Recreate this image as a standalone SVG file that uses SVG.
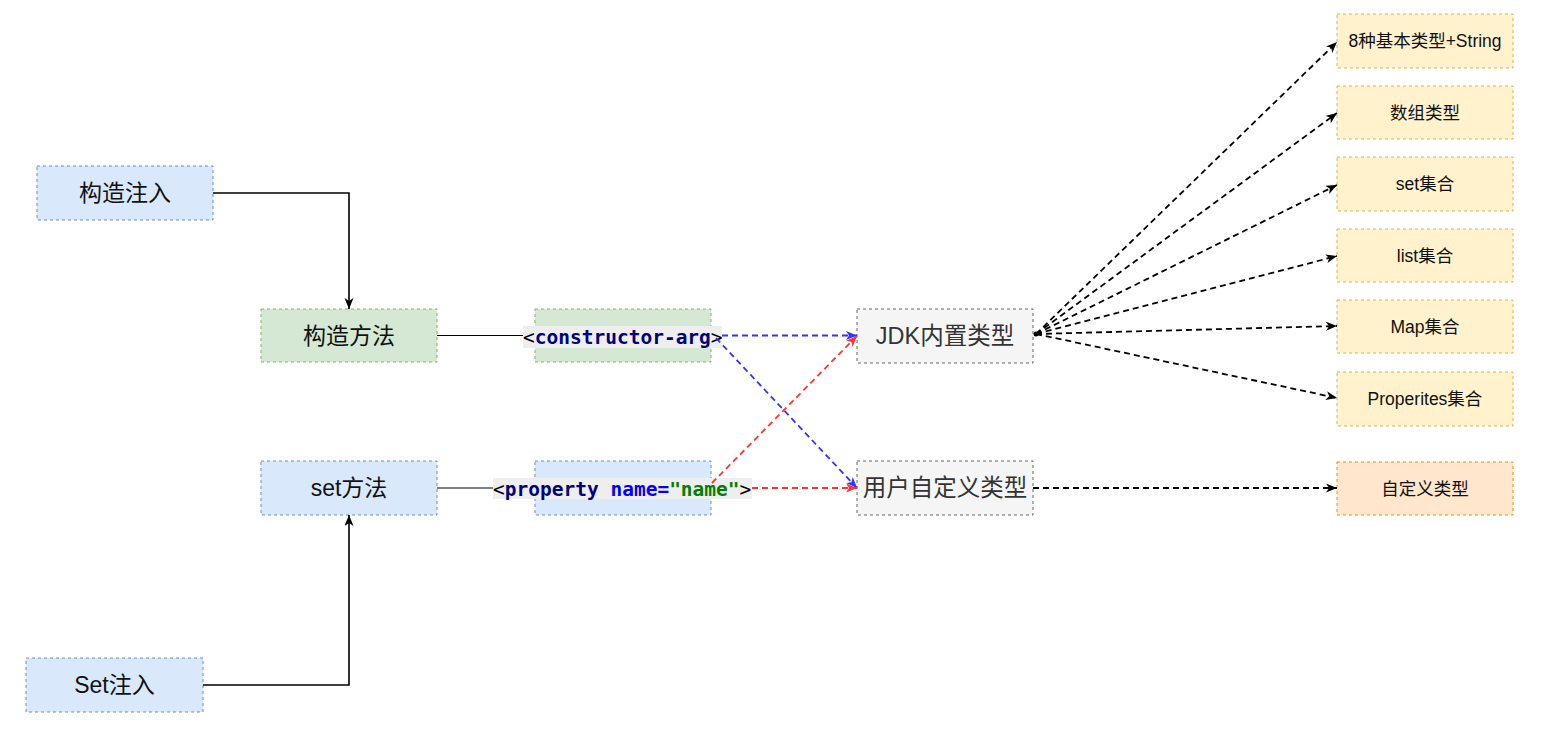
<svg xmlns="http://www.w3.org/2000/svg" width="1541" height="734" viewBox="0 0 1541 734">
<defs>
<style>
.n rect{stroke-width:1;stroke-dasharray:3 3}
.blue rect{fill:#dae8fc;stroke:#6c8ebf}
.green rect{fill:#d5e8d4;stroke:#82b366}
.grey rect{fill:#f5f5f5;stroke:#666666}
.yellow rect{fill:#fff2cc;stroke:#d6b656}
.orange rect{fill:#ffe6cc;stroke:#d79b00}
.n rect.lbg{fill:#eeeeee;stroke:none}
.t{font-family:"Liberation Sans","Noto Sans CJK SC",sans-serif;text-anchor:middle;dominant-baseline:central;fill:#111}
.big{font-size:23px}
.grey .t{fill:#333333;font-size:23.5px}
.small{font-size:17.5px}
.code{font-family:"DejaVu Sans Mono","Liberation Mono",monospace;font-weight:bold;font-size:19.5px;dominant-baseline:central}
.e{fill:none}
.solid{stroke:#000;stroke-width:1.6}
.thin{stroke:#000;stroke-width:1}
.dk{stroke:#000;stroke-width:1.8;stroke-dasharray:6 4}
.bl{stroke:#3333ff;stroke-width:1.8;stroke-dasharray:6 4}
.rd{stroke:#ff3333;stroke-width:1.8;stroke-dasharray:6 4}
</style>
<marker id="ak" markerUnits="userSpaceOnUse" markerWidth="12" markerHeight="10" refX="11" refY="4.5" orient="auto"><path d="M0,0 L11,4.5 L0,9 L3,4.5 Z" fill="#000"/></marker>
<marker id="ab" markerUnits="userSpaceOnUse" markerWidth="12" markerHeight="10" refX="11" refY="4.5" orient="auto"><path d="M0,0 L11,4.5 L0,9 L3,4.5 Z" fill="#3333ff"/></marker>
<marker id="ar" markerUnits="userSpaceOnUse" markerWidth="12" markerHeight="10" refX="11" refY="4.5" orient="auto"><path d="M0,0 L11,4.5 L0,9 L3,4.5 Z" fill="#ff3333"/></marker>
</defs>
<rect width="1541" height="734" fill="#ffffff"/>

<g id="node-gouzao-zhuru" class="n blue"><rect x="37" y="166" width="176" height="54"/><text class="t big" x="125" y="193">构造注入</text></g>
<g id="node-set-zhuru" class="n blue"><rect x="26" y="658" width="177" height="54"/><text class="t big" x="114.5" y="685">Set注入</text></g>
<g id="node-gouzao-fangfa" class="n green"><rect x="261" y="309" width="176" height="53"/><text class="t big" x="349" y="335.5">构造方法</text></g>
<g id="node-set-fangfa" class="n blue"><rect x="261" y="461" width="176" height="54"/><text class="t big" x="349" y="488">set方法</text></g>

<g id="node-constructor-arg" class="n green"><rect x="535" y="309" width="176" height="53"/>
<rect class="lbg" x="523" y="326" width="199" height="22"/>
<text class="code" x="523" y="337"><tspan fill="#000" font-weight="normal">&lt;</tspan><tspan fill="#000080">constructor-arg</tspan><tspan fill="#000" font-weight="normal">&gt;</tspan></text></g>
<g id="node-property" class="n blue"><rect x="535" y="461" width="176" height="54"/>
<rect class="lbg" x="493" y="478" width="259" height="21"/>
<text class="code" x="493" y="488.5"><tspan fill="#000" font-weight="normal">&lt;</tspan><tspan fill="#000080">property</tspan><tspan> </tspan><tspan fill="#0000ff">name=</tspan><tspan fill="#008000">"name"</tspan><tspan fill="#000" font-weight="normal">&gt;</tspan></text></g>

<g id="node-jdk" class="n grey"><rect x="857" y="309" width="176" height="54"/><text class="t" x="945" y="336">JDK内置类型</text></g>
<g id="node-user" class="n grey"><rect x="857" y="461" width="176" height="54"/><text class="t" x="945" y="488">用户自定义类型</text></g>

<g id="node-basic" class="n yellow"><rect x="1337" y="14" width="176" height="54"/><text class="t small" x="1425" y="41">8种基本类型+String</text></g>
<g id="node-array" class="n yellow"><rect x="1337" y="86" width="176" height="53"/><text class="t small" x="1425" y="112.5">数组类型</text></g>
<g id="node-set" class="n yellow"><rect x="1337" y="157" width="176" height="54"/><text class="t small" x="1425" y="184">set集合</text></g>
<g id="node-list" class="n yellow"><rect x="1337" y="229" width="176" height="53"/><text class="t small" x="1425" y="255.5">list集合</text></g>
<g id="node-map" class="n yellow"><rect x="1337" y="300" width="176" height="53"/><text class="t small" x="1425" y="326.5">Map集合</text></g>
<g id="node-properties" class="n yellow"><rect x="1337" y="372" width="176" height="54"/><text class="t small" x="1425" y="399">Properites集合</text></g>
<g id="node-custom" class="n orange"><rect x="1337" y="462" width="176" height="53"/><text class="t small" x="1425" y="488.5">自定义类型</text></g>

<g id="connectors" class="e">
<path class="solid" d="M213,193 H349 V309" marker-end="url(#ak)"/>
<path class="solid" d="M203,685 H349 V515" marker-end="url(#ak)"/>
<path class="thin" d="M437,335.5 H523"/>
<path class="thin" d="M437,488 H493"/>
<path class="bl" d="M722,335.5 H857" marker-end="url(#ab)"/>
<path class="bl" d="M716,338 L857,488" marker-end="url(#ab)"/>
<path class="rd" d="M712,483 L857,336" marker-end="url(#ar)"/>
<path class="rd" d="M752,488 H857" marker-end="url(#ar)"/>
<circle cx="1036" cy="334" r="2.5" fill="#000"/>
<path class="dk" d="M1036,334 L1337,42" marker-end="url(#ak)"/>
<path class="dk" d="M1036,334 L1337,113" marker-end="url(#ak)"/>
<path class="dk" d="M1036,334 L1337,185" marker-end="url(#ak)"/>
<path class="dk" d="M1036,334 L1337,256" marker-end="url(#ak)"/>
<path class="dk" d="M1036,334 L1337,326" marker-end="url(#ak)"/>
<path class="dk" d="M1036,334 L1337,398" marker-end="url(#ak)"/>
<path class="dk" d="M1033,488 H1337" marker-end="url(#ak)"/>
</g>
</svg>
